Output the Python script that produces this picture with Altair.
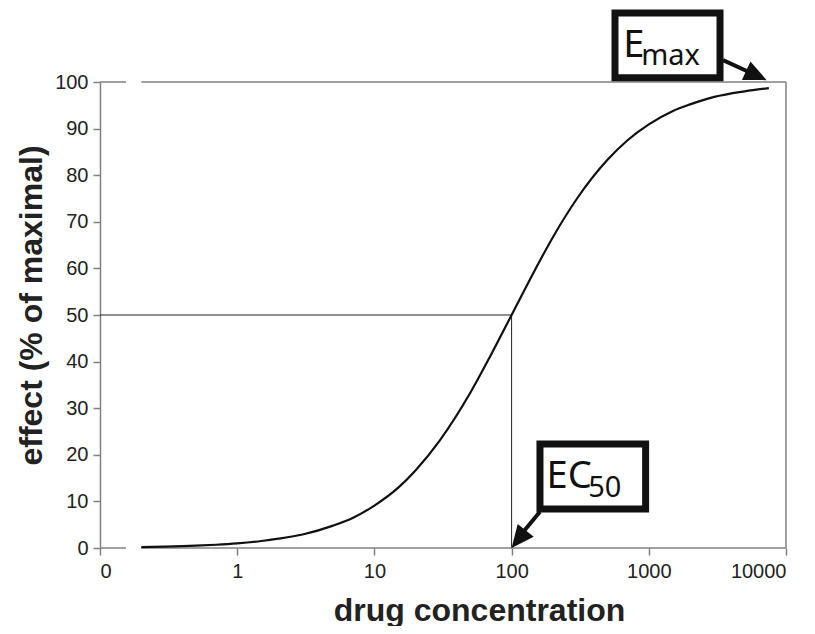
import altair as alt
import pandas as pd

# dose-response curve
conc = [0.2, 0.3, 0.5, 0.7, 1, 1.5, 2, 3, 5, 7, 10, 15, 20, 30, 50, 70,
        100, 150, 200, 300, 500, 700, 1000, 1500, 2000, 3000, 5000, 7500]
effect = [0.2, 0.3, 0.5, 0.7, 1.0, 1.5, 2.0, 2.9, 4.8, 6.5, 9.1, 13.0, 16.7,
          23.1, 33.3, 41.2, 50.0, 60.0, 66.7, 75.0, 83.3, 87.5, 90.9, 93.8,
          95.2, 96.8, 98.0, 98.7]

x_ticks = [0.1, 1, 10, 100, 1000, 10000]
y_ticks = [0, 10, 20, 30, 40, 50, 60, 70, 80, 90, 100]

ec50 = 100
half_effect = 50

# frame lines (with the axis break near the origin)
frame_x = [0.1, 0.2, 0.1, 0.2, 10000]
frame_x2 = [0.155, 10000, 0.155, 10000, 10000]
frame_y = [0, 0, 100, 100, 0]
frame_y2 = [0, 0, 100, 100, 100]

# annotation boxes, labels and arrows (data coordinates)
box_x = [567, 161]
box_x2 = [3304, 948]
box_y = [114.8, 22.3]
box_y2 = [100.9, 8.36]

big_text = ["E", "EC"]
big_x = [650, 180]
big_y = [105.3, 12.8]
sub_text = ["max", "50"]
sub_x = [880, 362]
sub_y = [103.6, 11.0]

arrow_x = [3475, 161]
arrow_y = [104.7, 7.8]
arrow_x2 = [6100, 112]
arrow_y2 = [101.4, 2.2]
tip_x = [7228, 100]
tip_y = [100.4, 0]
tip_angle = [114.7, 218.7]

xscale = alt.Scale(type="log", domain=[0.1, 10000], nice=False)
yscale = alt.Scale(domain=[0, 100], nice=False, zero=True)

xaxis = alt.Axis(values=x_ticks, domain=False, grid=False,
                 labelExpr="datum.value < 0.5 ? '0' : format(datum.value, 'd')",
                 titleX=379, titleY=72, titleAlign="center", titleBaseline="alphabetic",
                 tickSize=7, labelPadding=6)
yaxis = alt.Axis(values=y_ticks, grid=False,
                 titleX=-69, titleY=223, titleAngle=270, titleAlign="center",
                 titleBaseline="middle", tickSize=7, labelPadding=5)
xtitle = "drug concentration"
ytitle = "effect (% of maximal)"


def X(field):
    return alt.X(field, scale=xscale, axis=xaxis, title=xtitle)


def Y(field):
    return alt.Y(field, scale=yscale, axis=yaxis, title=ytitle)


curve_df = pd.DataFrame({"conc": conc, "effect": effect})
frame_df = pd.DataFrame({"x": frame_x, "x2": frame_x2, "y": frame_y, "y2": frame_y2})
ref_df = pd.DataFrame({"x": [0.1, ec50], "x2": [ec50, ec50],
                       "y": [half_effect, 0], "y2": [half_effect, half_effect]})
box_df = pd.DataFrame({"x": box_x, "x2": box_x2, "y": box_y, "y2": box_y2})
big_df = pd.DataFrame({"t": big_text, "x": big_x, "y": big_y})
sub_df = pd.DataFrame({"t": sub_text, "x": sub_x, "y": sub_y})
arrow_df = pd.DataFrame({"x": arrow_x, "y": arrow_y, "x2": arrow_x2, "y2": arrow_y2})
tip_df = pd.DataFrame({"x": tip_x, "y": tip_y, "a": tip_angle})

curve = alt.Chart(curve_df).mark_line(color="#111111", strokeWidth=2.2, interpolate="monotone").encode(
    x=X("conc:Q"), y=Y("effect:Q"),
)

frame = alt.Chart(frame_df).mark_rule(color="#808080", strokeWidth=1.5).encode(
    x=X("x:Q"), x2="x2:Q", y=Y("y:Q"), y2="y2:Q",
)

ref = alt.Chart(ref_df).mark_rule(color="#222222", strokeWidth=1).encode(
    x=X("x:Q"), x2="x2:Q", y=Y("y:Q"), y2="y2:Q",
)

boxes = alt.Chart(box_df).mark_rect(fill="white", stroke="#111111", strokeWidth=7).encode(
    x=X("x:Q"), x2="x2:Q", y=Y("y:Q"), y2="y2:Q",
)

big = alt.Chart(big_df).mark_text(font="Noto Sans", fontSize=38, align="left",
                                  baseline="alphabetic", color="#111111").encode(
    x=X("x:Q"), y=Y("y:Q"), text="t:N",
)

sub = alt.Chart(sub_df).mark_text(font="Noto Sans", fontSize=29, align="left",
                                  baseline="alphabetic", color="#111111").encode(
    x=X("x:Q"), y=Y("y:Q"), text="t:N",
)

shafts = alt.Chart(arrow_df).mark_rule(color="#111111", strokeWidth=4).encode(
    x=X("x:Q"), x2="x2:Q", y=Y("y:Q"), y2="y2:Q",
)

tips = alt.Chart(tip_df).mark_point(shape="M0,0L1,2.2L-1,2.2Z", size=420, filled=True,
                                    color="#111111", opacity=1).encode(
    x=X("x:Q"), y=Y("y:Q"),
    angle=alt.Angle("a:Q", scale=None),
)

chart = alt.layer(ref, frame, curve, shafts, tips, boxes, big, sub).properties(
    width=686, height=466,
    autosize=alt.AutoSizeParams(type="none"),
    padding={"left": 92, "top": 74, "right": 20, "bottom": 78},
    background="white",
).configure_view(stroke="transparent").configure_axis(
    domainColor="#808080", domainWidth=1.5, tickColor="#808080", tickWidth=1.5,
    labelFont="Liberation Sans", labelFontSize=20, labelColor="#222222",
    titleFont="Liberation Sans", titleFontSize=32, titleFontWeight="bold",
    titleColor="#222222",
)

chart.save("out.html", embed_options={"renderer": "svg", "actions": False})
